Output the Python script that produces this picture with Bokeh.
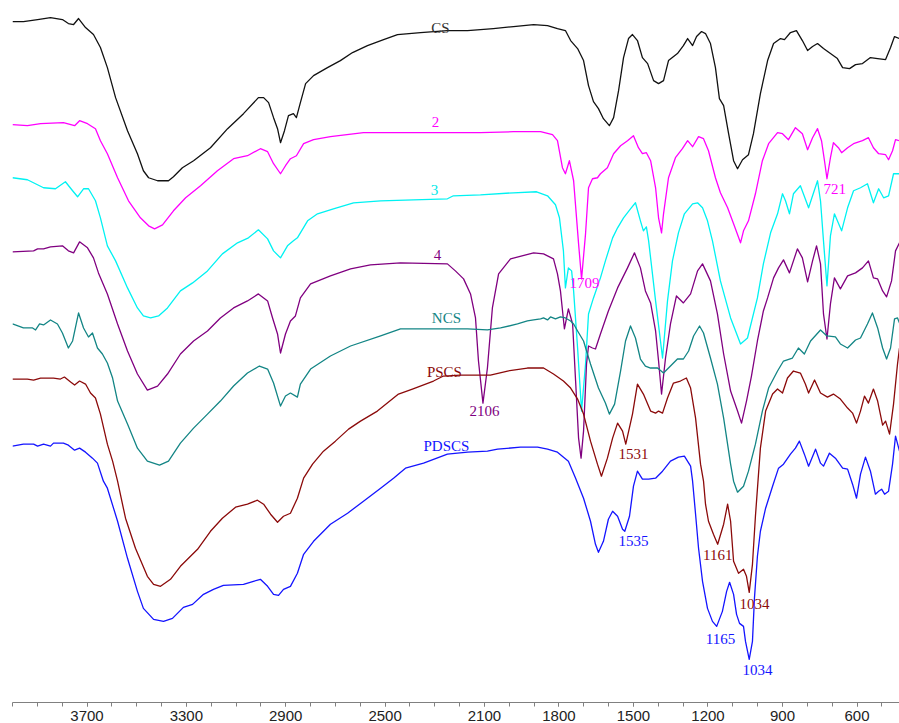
from bokeh.plotting import figure
from bokeh.models import Range1d, FixedTicker, ColumnDataSource
from bokeh.embed import file_html
from bokeh.resources import INLINE
from bokeh.core.properties import value

# ---------------- FTIR spectra (wavenumber in cm-1, transmittance in a.u., stacked) ----------------
cs_wn = [4000, 3956, 3899, 3847, 3799, 3775, 3754, 3734, 3706, 3674, 3646, 3618, 3585, 3537, 3497, 3473,
         3452, 3416, 3372, 3352, 3316, 3271, 3203, 3134, 3070, 3010, 2989, 2969, 2949, 2933, 2921, 2905,
         2889, 2869, 2857, 2841, 2820, 2788, 2732, 2680, 2631, 2571, 2506, 2450, 2357, 2249, 2168, 2064,
         1983, 1902, 1846, 1806, 1774, 1753, 1725, 1701, 1681, 1661, 1641, 1621, 1597, 1580, 1560, 1540,
         1520, 1504, 1484, 1464, 1443, 1419, 1399, 1379, 1359, 1323, 1299, 1282, 1262, 1246, 1226, 1210,
         1190, 1170, 1154, 1137, 1117, 1097, 1081, 1061, 1037, 1017, 989, 960, 936, 908, 892, 868, 844,
         820, 799, 779, 759, 735, 707, 679, 658, 630, 606, 578, 546, 517, 485, 465, 449, 429]
cs_t = [679, 679, 681, 683, 681, 677, 676, 682, 673, 666, 653, 633, 603, 570, 547, 530,
        523, 520, 520, 524, 533, 540, 553, 572, 587, 603, 603, 598, 583, 572, 558, 570,
        585, 587, 583, 598, 617, 625, 633, 640, 648, 655, 661, 666, 668, 670, 670, 672,
        674, 676, 675, 672, 670, 660, 652, 640, 615, 599, 592, 582, 575, 583, 610, 643,
        662, 666, 660, 643, 637, 620, 617, 620, 640, 647, 655, 662, 655, 664, 669, 667,
        657, 633, 602, 595, 567, 540, 532, 541, 546, 567, 607, 640, 657, 662, 661, 668, 670,
        660, 650, 654, 657, 652, 647, 642, 633, 632, 636, 637, 643, 642, 641, 653, 664, 662]

s2_wn = [4000, 3940, 3887, 3795, 3750, 3730, 3698, 3666, 3646, 3618, 3577, 3533, 3485, 3452, 3428, 3396,
         3352, 3303, 3243, 3175, 3110, 3054, 3002, 2973, 2949, 2921, 2901, 2881, 2857, 2828, 2788, 2720,
         2587, 2450, 2317, 2116, 1983, 1874, 1826, 1806, 1786, 1774, 1758, 1741, 1721, 1709, 1693, 1681,
         1665, 1645, 1633, 1605, 1580, 1552, 1524, 1500, 1480, 1464, 1448, 1431, 1411, 1399, 1387, 1379,
         1359, 1331, 1303, 1282, 1262, 1238, 1218, 1198, 1170, 1150, 1121, 1097, 1069, 1057, 1037, 1009,
         981, 956, 920, 900, 876, 848, 820, 799, 779, 759, 743, 731, 721, 707, 695, 675, 662, 638, 614,
         578, 554, 534, 513, 485, 473, 457, 445, 429]
s2_t = [576, 575, 577, 578, 575, 580, 577, 572, 560, 547, 523, 500, 483, 475, 472, 476,
        490, 503, 515, 530, 542, 545, 552, 549, 537, 527, 535, 542, 545, 557, 561, 564,
        568, 568, 568, 568, 569, 569, 566, 560, 533, 527, 540, 520, 457, 422, 467, 513,
        522, 523, 527, 533, 547, 555, 560, 565, 553, 547, 548, 540, 513, 483, 468, 487,
        523, 543, 552, 560, 554, 564, 562, 550, 523, 508, 493, 477, 458, 470, 480, 507,
        540, 557, 568, 567, 561, 573, 567, 551, 563, 572, 560, 540, 522, 543, 558, 553, 548, 553, 557,
        560, 563, 553, 547, 546, 541, 550, 561, 560]

s3_wn = [4000, 3940, 3875, 3827, 3787, 3758, 3738, 3714, 3694, 3666, 3646, 3618, 3585, 3537, 3497, 3473,
         3444, 3412, 3376, 3324, 3275, 3215, 3155, 3094, 3050, 3010, 2973, 2949, 2921, 2893, 2869, 2853,
         2812, 2772, 2708, 2627, 2518, 2386, 2249, 2225, 2116, 1983, 1890, 1846, 1814, 1798, 1782, 1774,
         1762, 1749, 1741, 1725, 1709, 1693, 1681, 1661, 1633, 1613, 1584, 1564, 1540, 1512, 1492, 1472,
         1460, 1448, 1439, 1411, 1383, 1363, 1343, 1319, 1295, 1262, 1242, 1222, 1202, 1182, 1150, 1109,
         1069, 1041, 1001, 977, 948, 920, 900, 888, 872, 856, 828, 816, 795, 775, 759, 747, 735, 721,
         707, 691, 662, 638, 614, 586, 558, 534, 513, 493, 473, 453, 429]
s3_t = [523, 521, 513, 512, 519, 510, 504, 512, 512, 500, 483, 455, 440, 413, 393, 385,
        383, 385, 393, 410, 418, 430, 447, 458, 463, 471, 462, 450, 443, 455, 460, 463,
        480, 487, 492, 498, 500, 501, 502, 505, 506, 508, 509, 505, 496, 483, 450, 413,
        433, 430, 410, 353, 290, 337, 387, 403, 423, 440, 463, 473, 483, 492, 498, 480,
        470, 474, 460, 400, 343, 400, 440, 468, 487, 497, 498, 493, 480, 460, 420, 383,
        357, 363, 403, 437, 468, 487, 507, 500, 487, 507, 515, 507, 493, 508, 520, 500, 460, 415,
        465, 487, 470, 493, 510, 513, 517, 498, 512, 503, 505, 527, 527]

s4_wn = [4000, 3915, 3899, 3875, 3847, 3799, 3775, 3754, 3730, 3698, 3674, 3654, 3618, 3577, 3537, 3497,
         3457, 3416, 3376, 3324, 3271, 3215, 3163, 3110, 3054, 3010, 2973, 2953, 2933, 2921, 2901, 2881,
         2861, 2841, 2800, 2720, 2639, 2559, 2438, 2249, 2217, 2184, 2156, 2136, 2124, 2106, 2088, 2068,
         2043, 1995, 1902, 1862, 1822, 1806, 1794, 1778, 1762, 1745, 1733, 1721, 1711, 1701, 1689, 1681,
         1665, 1653, 1633, 1601, 1564, 1524, 1496, 1472, 1452, 1431, 1411, 1399, 1387, 1371, 1351, 1327,
         1299, 1270, 1242, 1222, 1190, 1162, 1137, 1109, 1081, 1065, 1045, 1025, 1001, 977, 960, 936,
         916, 896, 872, 840, 820, 799, 779, 763, 747, 735, 721, 707, 691, 667, 638, 606, 578, 554, 534,
         517, 497, 481, 461, 445, 429]
s4_t = [449, 450, 452, 452, 454, 455, 450, 448, 459, 453, 443, 428, 407, 377, 350, 327,
        311, 315, 327, 347, 360, 370, 383, 393, 400, 407, 400, 383, 367, 348, 367, 380,
        385, 403, 417, 425, 432, 436, 438, 437, 430, 422, 407, 383, 340, 298, 333, 393,
        427, 442, 448, 447, 442, 427, 410, 372, 392, 377, 320, 263, 243, 270, 337, 355,
        353, 352, 367, 390, 413, 433, 448, 433, 410, 398, 370, 340, 307, 343, 377, 405,
        398, 407, 430, 437, 420, 387, 347, 310, 290, 278, 300, 325, 360, 390, 403, 423,
        433, 441, 428, 452, 443, 419, 440, 455, 437, 387, 362, 397, 423, 412, 425, 428, 433, 440, 423,
        422, 410, 404, 420, 450, 458]

ncs_wn = [4000, 3956, 3919, 3907, 3891, 3875, 3847, 3819, 3799, 3775, 3758, 3734, 3714, 3694, 3678, 3658,
          3638, 3618, 3597, 3577, 3537, 3497, 3457, 3408, 3372, 3324, 3271, 3215, 3163, 3110, 3054, 3006,
          2973, 2949, 2921, 2901, 2881, 2853, 2841, 2800, 2720, 2639, 2518, 2438, 2305, 2168, 2088, 2035,
          1967, 1927, 1902, 1874, 1862, 1846, 1834, 1814, 1794, 1774, 1753, 1741, 1725, 1701, 1673, 1641,
          1613, 1597, 1576, 1552, 1532, 1512, 1492, 1472, 1452, 1431, 1403, 1379, 1351, 1323, 1299, 1278,
          1258, 1234, 1218, 1190, 1162, 1137, 1109, 1097, 1081, 1057, 1037, 1009, 981, 956, 920, 896,
          860, 836, 812, 787, 747, 721, 687, 667, 638, 606, 586, 558, 538, 517, 497, 481, 465, 449,
          437, 429]
ncs_t = [377, 373, 373, 371, 377, 376, 381, 377, 368, 353, 360, 388, 373, 364, 368, 353,
         347, 338, 323, 300, 277, 253, 240, 236, 240, 258, 273, 287, 300, 315, 328, 335,
         332, 318, 295, 305, 308, 304, 317, 332, 345, 355, 365, 372, 372, 372, 371, 373,
         377, 380, 381, 382, 383, 381, 384, 382, 384, 383, 380, 377, 370, 360, 337, 313,
         298, 287, 297, 330, 360, 375, 363, 342, 335, 333, 333, 328, 335, 342, 342, 350,
         365, 375, 368, 343, 317, 283, 237, 220, 209, 215, 230, 257, 290, 313, 330, 340,
         343, 353, 347, 360, 371, 365, 364, 357, 353, 361, 363, 377, 388, 373, 353, 342, 353, 382,
         383, 378]

pscs_wn = [4000, 3940, 3915, 3887, 3835, 3807, 3791, 3766, 3750, 3730, 3706, 3686, 3666, 3646, 3618, 3597,
           3577, 3545, 3505, 3457, 3432, 3404, 3364, 3324, 3255, 3203, 3155, 3102, 3054, 3014, 2989, 2961,
           2933, 2909, 2881, 2853, 2828, 2792, 2748, 2700, 2647, 2599, 2531, 2446, 2390, 2305, 2265, 2196,
           2076, 2007, 1927, 1862, 1822, 1782, 1753, 1725, 1701, 1673, 1645, 1629, 1605, 1584, 1564, 1544,
           1531, 1504, 1484, 1460, 1431, 1411, 1399, 1383, 1363, 1339, 1311, 1287, 1270, 1250, 1230, 1218,
           1210, 1198, 1178, 1161, 1137, 1121, 1109, 1097, 1077, 1057, 1045, 1034, 1021, 1009, 989, 968,
           940, 920, 900, 880, 856, 828, 808, 795, 771, 747, 719, 695, 667, 638, 618, 602, 586, 570,
           554, 534, 517, 497, 485, 469, 453, 437, 429]
pscs_t = [322, 322, 321, 323, 323, 322, 324, 319, 316, 320, 317, 308, 303, 287, 257, 240,
          220, 183, 153, 125, 117, 115, 122, 135, 152, 170, 183, 194, 197, 201, 197, 187,
          179, 185, 188, 203, 223, 237, 250, 260, 272, 280, 290, 307, 312, 320, 325, 326,
          326, 330, 333, 333, 327, 320, 313, 302, 287, 260, 237, 225, 243, 263, 278, 270,
          257, 287, 317, 307, 290, 288, 290, 288, 303, 318, 320, 323, 313, 283, 237, 220,
          197, 180, 167, 157, 177, 197, 180, 140, 128, 132, 125, 109, 137, 185, 253, 290,
          307, 312, 308, 323, 330, 328, 317, 308, 321, 308, 304, 307, 302, 293, 288, 278, 290, 305,
          298, 312, 300, 276, 280, 267, 297, 337, 353]

pdscs_wn = [4000, 3956, 3915, 3899, 3875, 3847, 3835, 3795, 3775, 3750, 3730, 3706, 3678, 3658, 3634, 3618,
            3577, 3537, 3497, 3473, 3432, 3392, 3356, 3312, 3275, 3231, 3191, 3151, 3070, 3030, 3002, 2973,
            2949, 2929, 2909, 2881, 2853, 2828, 2788, 2720, 2651, 2587, 2518, 2466, 2418, 2345, 2249, 2168,
            2088, 2047, 1955, 1886, 1846, 1806, 1762, 1733, 1701, 1673, 1653, 1641, 1621, 1601, 1584, 1564,
            1544, 1535, 1516, 1500, 1484, 1464, 1439, 1411, 1383, 1351, 1319, 1295, 1270, 1262, 1250, 1238,
            1222, 1202, 1182, 1165, 1142, 1125, 1113, 1097, 1085, 1073, 1057, 1049, 1034, 1021, 1013, 1001,
            989, 968, 940, 916, 896, 868, 848, 832, 812, 795, 767, 747, 735, 711, 687, 658, 638, 618, 602,
            586, 566, 546, 526, 513, 501, 489, 473, 457, 445, 429]
pdscs_t = [255, 257, 257, 255, 257, 255, 258, 258, 256, 251, 253, 249, 243, 238, 220, 213,
           180, 143, 110, 93, 82, 80, 83, 94, 97, 107, 112, 116, 117, 120, 122, 115,
           107, 106, 112, 115, 128, 147, 160, 177, 188, 200, 213, 223, 233, 238, 247, 249,
           250, 252, 254, 254, 252, 249, 240, 223, 203, 180, 157, 149, 160, 182, 190, 185,
           172, 170, 185, 215, 230, 222, 222, 223, 230, 240, 244, 245, 235, 220, 187, 153,
           120, 93, 80, 75, 90, 110, 119, 107, 87, 78, 75, 60, 42, 60, 103, 145,
           170, 193, 215, 233, 237, 247, 253, 260, 247, 235, 252, 238, 235, 248, 243, 233, 232, 217, 203,
           227, 244, 230, 207, 210, 212, 207, 210, 237, 265, 250]

# ---------------- series names, colours and label anchors ----------------
series = [
    ("CS", cs_wn, cs_t, "#111111", "#333333", 2277, 673),
    ("2", s2_wn, s2_t, "#ff00ff", "#ff00ff", 2297, 579),
    ("3", s3_wn, s3_t, "#00f2f2", "#00e8e8", 2301, 511),
    ("4", s4_wn, s4_t, "#800080", "#800080", 2289, 446),
    ("NCS", ncs_wn, ncs_t, "#138585", "#138585", 2253, 383),
    ("PSCS", pscs_wn, pscs_t, "#8b0a0a", "#8b0a0a", 2261, 329),
    ("PDSCS", pdscs_wn, pdscs_t, "#1414ff", "#1414ff", 2253, 255),
]

# assigned band positions: (series, wavenumber) with the label placement next to the band
band_series = ["4", "2", "2", "PSCS", "PSCS", "PSCS", "PDSCS", "PDSCS", "PDSCS"]
band_wn = [2106, 1709, 721, 1531, 1161, 1034, 1535, 1165, 1034]
band_dx = [6, 12, 31, 31, 0, 21, 35, 15, 33]            # cm-1 shift of the label (towards low wavenumber)
band_dy = [-8, -4, -10, -10, -11, -12, -10, -13, -11]   # a.u. shift of the label centre

p = figure(width=899, height=723, x_range=Range1d(4000, 429), y_range=Range1d(-1, 700),
           output_backend="svg", toolbar_location=None, y_axis_location=None,
           min_border_left=12, min_border_right=0, min_border_top=0, min_border_bottom=0)
p.grid.visible = False
p.outline_line_color = None
p.background_fill_color = "white"
p.border_fill_color = "white"

lookup = {}
for name, wn, t, color, tcolor, lx, ly in series:
    p.line(wn, t, line_color=color, line_width=1.3, line_join="round")
    lookup[name] = (dict(zip(wn, t)), tcolor)
    p.text(x=[lx], y=[ly], text=[name], text_color=tcolor, text_font=value("Liberation Serif"),
           text_font_size="15px", text_align="center", text_baseline="middle")

bx, by, btxt, bcol = [], [], [], []
for s, w, dx, dy in zip(band_series, band_wn, band_dx, band_dy):
    vals, tcolor = lookup[s]
    bx.append(w - dx)
    by.append(vals[w] + dy)
    btxt.append(str(w))
    bcol.append(tcolor)
bands = ColumnDataSource(dict(x=bx, y=by, text=btxt, color=bcol))
p.text(x="x", y="y", text="text", text_color="color", source=bands,
       text_font=value("Liberation Serif"), text_font_size="15px",
       text_align="center", text_baseline="middle")

ax = p.xaxis[0]
ax.ticker = FixedTicker(ticks=[3700, 3300, 2900, 2500, 2100, 1800, 1500, 1200, 900, 600],
                        minor_ticks=list(range(4000, 400, -100)))
ax.axis_line_color = "#808080"
ax.major_tick_line_color = "#808080"
ax.minor_tick_line_color = "#808080"
ax.major_tick_in = 0
ax.major_tick_out = 4
ax.minor_tick_in = 0
ax.minor_tick_out = 4
ax.major_label_standoff = 4
ax.major_label_text_font = "Liberation Sans"
ax.major_label_text_font_size = "15px"
ax.major_label_text_color = "#222222"

open("out.html", "w").write(file_html(p, INLINE))
